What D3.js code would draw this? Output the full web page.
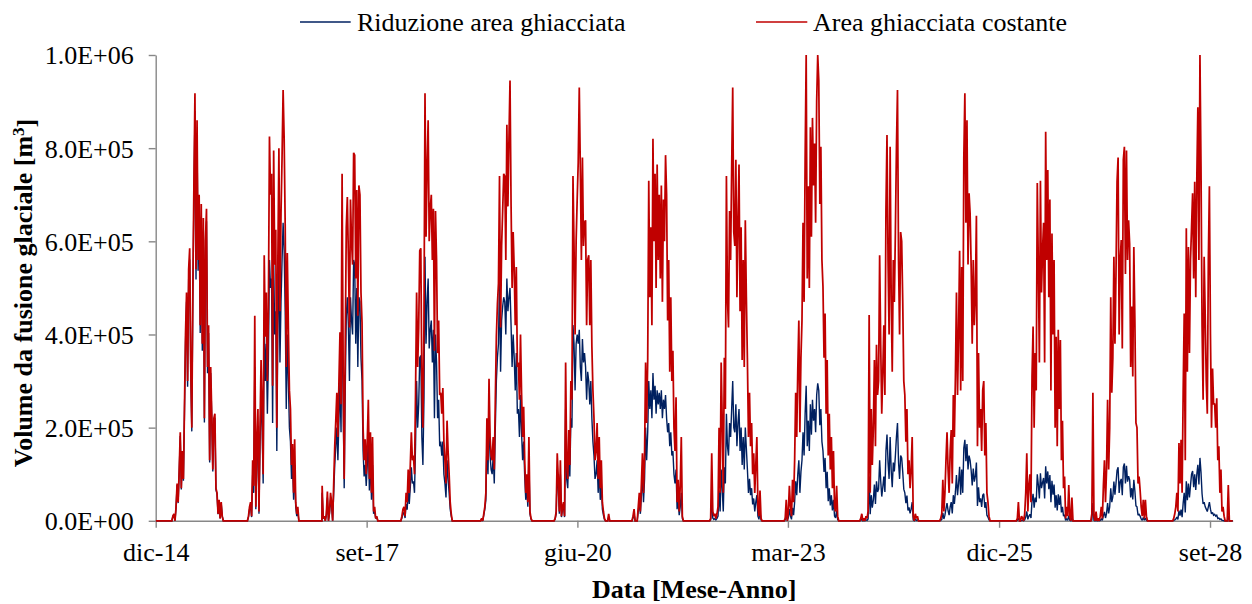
<!DOCTYPE html>
<html>
<head>
<meta charset="utf-8">
<script src="https://cdn.jsdelivr.net/npm/d3@7"></script>
<style>
  body { margin: 0; background: #fff; }
  text { font-family: "Liberation Serif", "Times New Roman", serif; fill: #000; }
</style>
</head>
<body>
<svg id="chart" width="1252" height="604"></svg>
<script>
// Melt seasons: one array per year, values in thousand m³,
// sampled every STEP_DAYS days starting on 1 February of that year.
const seasonYears = [2015, 2016, 2017, 2018, 2019, 2020, 2021, 2022, 2023, 2024, 2025, 2026, 2027, 2028];
const STEP_DAYS = 5;

// "Area ghiacciata costante"
const constantArea = [
  [0,0,0,0,10,15,0,30,80,40,110,190,70,150,90,240,400,490,300,540,585,330,200,500,720,918,540,860,560,700,420,680,380,650,220,600,670,330,420,130,330,230,110,220,230,70,60,15,45,5,40,10,0],
  [0,0,0,10,30,40,10,130,75,440,30,170,240,20,200,345,250,100,570,395,490,300,460,825,700,745,290,795,550,625,200,560,800,450,660,780,925,820,630,330,575,415,280,240,120,165,60,175,40,15,30,0],
  [75,5,10,0,15,63,0,20,60,40,0,80,160,215,275,180,300,405,250,745,330,90,380,630,695,565,415,690,600,550,790,785,520,710,440,720,700,490,425,200,130,175,100,170,260,90,190,60,180,20,30,5,10,0],
  [0,0,0,10,25,30,10,60,40,110,60,120,190,130,140,100,275,490,330,415,580,585,300,200,420,918,610,760,860,600,670,700,560,670,365,665,560,360,430,270,275,230,285,170,130,80,215,150,100,40,15,0],
  [0,0,0,0,0,0,5,0,15,30,60,220,130,305,180,140,130,180,110,260,395,465,510,740,415,590,665,745,740,560,850,675,820,945,680,500,620,540,420,545,330,340,260,400,275,180,245,130,60,100,40,180,20,5,0],
  [0,0,0,5,20,145,90,20,130,10,30,40,10,340,120,90,195,120,300,260,740,590,400,600,690,770,930,755,560,780,590,640,645,420,560,570,420,560,375,280,220,130,150,210,90,180,70,130,40,20,5,0,0,0,15,0],
  [0,0,0,0,10,25,0,0,0,30,60,20,80,145,60,140,340,210,345,730,480,630,420,820,600,745,500,765,560,700,520,720,470,690,600,785,700,430,560,320,480,300,365,200,150,265,40,88,20,75,180,10,0],
  [0,0,0,0,0,5,145,20,10,15,5,15,30,200,60,340,215,60,350,240,740,475,415,665,560,755,930,620,590,775,480,640,765,450,630,345,560,330,645,480,345,180,275,160,210,100,145,60,120,180,30,10,65,5,0],
  [0,0,0,5,45,0,20,75,30,10,88,40,130,275,180,325,430,190,350,430,640,470,775,1000,520,718,500,845,610,865,720,810,640,900,1000,945,680,803,560,503,350,445,230,345,140,230,110,180,70,150,30,20,75,10,0],
  [0,0,5,15,0,5,0,10,5,20,442,60,240,120,200,345,160,378,270,300,570,380,230,317,420,270,667,828,560,400,803,480,320,560,470,620,800,925,560,400,620,600,470,300,270,170,240,100,130,70,110,180,10,0,15,5,10,0],
  [0,0,0,0,0,5,15,88,20,60,130,190,110,60,150,195,80,270,180,310,490,270,400,580,280,545,300,780,918,640,860,550,703,660,545,380,560,420,480,655,160,360,200,240,150,280,300,140,210,60,40,10,0],
  [0,0,0,0,0,5,40,0,0,10,5,0,15,60,145,20,75,100,40,310,417,200,360,280,725,552,340,730,490,580,640,340,835,560,753,480,690,280,617,400,560,200,395,160,410,240,388,130,215,70,95,5,30,10,77,10,0,50,0],
  [0,0,0,15,275,10,0,20,0,5,0,10,30,5,75,130,40,110,260,110,200,480,275,350,567,380,530,728,780,400,560,603,370,775,803,530,795,560,645,595,330,460,310,588,430,210,200,80,95,65,30,10,45,5,45,10,0],
  [0,0,0,0,0,0,0,0,5,15,30,60,20,167,80,174,60,275,445,130,628,320,588,360,560,630,703,520,728,480,732,888,560,1000,760,420,260,567,440,300,230,560,718,400,200,327,250,252,200,263,130,160,60,110,20,30,10,0,0,0,77,0]
];

// "Riduzione area ghiacciata"
const reducedArea = [
  [0,0,0,0,10,14,0,29,77,38,105,182,67,144,86,230,383,470,288,518,561,317,192,480,690,880,518,825,537,672,403,652,365,624,211,576,643,317,403,125,317,221,106,211,221,67,58,14,43,5,38,10,0],
  [0,0,0,8,25,30,8,100,60,330,25,130,190,15,160,270,200,80,430,300,380,230,350,560,500,520,210,560,400,450,150,420,560,340,470,560,640,580,450,240,400,300,200,170,90,120,45,120,30,10,20,0],
  [60,5,8,0,12,50,0,15,45,30,0,60,120,160,200,130,220,300,190,500,260,70,280,440,480,420,300,480,430,400,560,550,380,500,330,480,470,350,300,150,95,120,75,120,180,65,130,45,120,15,20,5,8,0],
  [0,0,0,6,15,18,6,36,24,66,36,72,115,80,85,60,165,300,200,250,350,355,180,120,260,567,380,470,520,370,410,430,340,410,220,400,340,220,260,160,170,140,170,100,80,50,130,90,60,25,10,0],
  [0,0,0,0,0,0,4,0,12,25,45,170,100,230,140,110,100,140,80,200,300,350,380,520,320,430,460,480,470,400,520,450,480,500,420,330,400,350,280,360,230,240,180,270,190,130,170,95,45,70,30,130,15,4,0],
  [0,0,0,4,15,110,70,15,100,8,25,30,8,240,90,70,150,95,220,200,420,380,280,380,400,380,410,330,300,390,340,360,330,260,320,300,250,300,220,170,140,90,100,130,60,110,45,80,25,12,3,0,0,0,8,0],
  [0,0,0,0,6,15,0,0,0,20,40,15,55,100,40,90,200,130,190,300,240,280,220,317,260,290,230,280,250,275,240,280,220,260,240,270,220,190,210,160,190,140,150,100,80,110,25,45,12,30,60,5,0],
  [0,0,0,0,0,2,50,6,3,5,2,5,10,65,20,110,70,20,115,80,230,160,140,210,180,240,300,200,190,250,160,210,240,150,200,120,180,110,200,155,110,60,90,55,70,35,48,20,40,55,10,3,20,2,0],
  [0,0,0,2,15,0,7,25,10,3,28,12,40,85,55,100,130,60,105,130,190,140,230,290,160,215,150,250,185,260,215,240,190,270,295,280,205,240,170,150,105,135,70,105,42,70,33,55,22,45,10,6,22,3,0],
  [0,0,1,3,0,1,0,2,1,4,95,14,55,28,45,78,36,85,62,68,130,86,52,72,95,62,150,185,125,90,180,108,72,125,106,140,180,210,125,90,140,135,105,68,60,38,54,22,29,16,25,40,2,0,3,1,2,0],
  [0,0,0,0,0,1,3,17,4,12,26,38,22,12,30,40,16,55,36,62,98,55,80,116,56,110,60,156,174,128,165,110,140,130,108,76,112,84,96,125,32,72,40,48,30,55,58,28,40,12,8,2,0],
  [0,0,0,0,0,1,6,0,0,1,1,0,2,8,20,3,10,14,6,43,58,28,50,40,100,77,48,102,70,82,92,48,117,80,106,68,98,40,86,56,78,28,55,22,57,34,54,18,30,10,13,1,4,1,11,1,0,7,0],
  [0,0,0,2,38,1,0,3,0,1,0,1,4,1,11,19,6,16,38,16,30,70,40,52,84,56,80,108,115,60,84,90,55,115,123,80,118,84,96,88,50,70,46,88,64,32,30,12,14,10,4,1,7,1,6,1,0],
  [0,0,0,0,0,0,0,0,1,2,4,8,3,22,11,24,8,38,60,18,85,44,80,50,76,100,107,72,100,66,100,120,78,135,104,58,36,40,30,25,20,30,40,25,15,18,12,14,10,12,5,6,3,4,1,1,0,0,0,0,10,0]
];

const seriesNames = ["Riduzione area ghiacciata", "Area ghiacciata costante"];
const seriesColors = ["#002060", "#C00000"];
const seriesWidths = [1.4, 1.75];

const yTickValues = [0, 200000, 400000, 600000, 800000, 1000000];
const yTickLabels = ["0.0E+00", "2.0E+05", "4.0E+05", "6.0E+05", "8.0E+05", "1.0E+06"];
const xTickDates = ["2014-12-01", "2017-09-01", "2020-06-01", "2023-03-01", "2025-12-01", "2028-09-01"];
const xTickLabels = ["dic-14", "set-17", "giu-20", "mar-23", "dic-25", "set-28"];
const axisStart = "2014-12-01";
const axisEnd = "2028-12-18";

const xTitle = "Data [Mese-Anno]";
const yTitle = "Volume da fusione glaciale [m";

// ---- layout ----
const plot = { left: 155.7, right: 1232.7, top: 55, bottom: 520.8 };
const axisColor = "#878787";

const svg = d3.select("#chart");
const parse = d3.utcParse("%Y-%m-%d");
const DAY = 86400000;

const x = d3.scaleUtc()
  .domain([parse(axisStart), parse(axisEnd)])
  .range([plot.left, plot.right]);
const y = d3.scaleLinear()
  .domain([0, 1000000])
  .range([plot.bottom, plot.top]);

// One polyline per series: flat zero through each winter, season samples in between.
function buildSeries(seasons) {
  const pts = [{ date: parse(axisStart), value: 0 }];
  seasons.forEach((vals, k) => {
    const start = Date.UTC(seasonYears[k], 1, 1);
    pts.push({ date: new Date(start - DAY), value: 0 });
    vals.forEach((v, i) => {
      pts.push({ date: new Date(start + STEP_DAYS * i * DAY), value: v * 1000 });
    });
    pts.push({ date: new Date(start + (STEP_DAYS * (vals.length - 1) + 1) * DAY), value: 0 });
  });
  pts.push({ date: parse(axisEnd), value: 0 });
  return pts;
}

const series = [buildSeries(reducedArea), buildSeries(constantArea)];

// ---- axes ----
const yAxis = d3.axisLeft(y)
  .tickValues(yTickValues)
  .tickFormat((d, i) => yTickLabels[i])
  .tickSizeInner(7)
  .tickSizeOuter(0)
  .tickPadding(15);

const gy = svg.append("g")
  .attr("transform", `translate(${plot.left},0)`)
  .call(yAxis);
gy.attr("font-family", null);
gy.select(".domain").attr("stroke", axisColor).attr("stroke-width", 1.4);
gy.selectAll(".tick line").attr("stroke", axisColor).attr("stroke-width", 1.4);
gy.selectAll(".tick text")
  .attr("dy", "0.34em")
  .style("font-size", "26px")
  .style("font-family", "'Liberation Serif', 'Times New Roman', serif")
  .attr("fill", "#000");

const xAxis = d3.axisBottom(x)
  .tickValues(xTickDates.map(parse))
  .tickFormat((d, i) => xTickLabels[i])
  .tickSizeInner(7)
  .tickSizeOuter(0);

const gx = svg.append("g")
  .attr("transform", `translate(0,${plot.bottom})`)
  .call(xAxis);
gx.attr("font-family", null);
gx.select(".domain").attr("stroke", axisColor).attr("stroke-width", 1.4);
gx.selectAll(".tick line").attr("stroke", axisColor).attr("stroke-width", 1.4);
gx.selectAll(".tick text")
  .attr("y", 40.5)
  .attr("dy", 0)
  .style("font-size", "26px")
  .style("font-family", "'Liberation Serif', 'Times New Roman', serif")
  .attr("fill", "#000");

// ---- series lines ----
svg.append("clipPath").attr("id", "plot-clip")
  .append("rect")
  .attr("x", plot.left)
  .attr("y", plot.top - 1)
  .attr("width", plot.right - plot.left + 1)
  .attr("height", plot.bottom - plot.top + 3);

const line = d3.line()
  .x(d => x(d.date))
  .y(d => y(d.value));

svg.append("g")
  .attr("clip-path", "url(#plot-clip)")
  .selectAll("path")
  .data(series)
  .join("path")
  .attr("d", line)
  .attr("fill", "none")
  .attr("stroke", (d, i) => seriesColors[i])
  .attr("stroke-width", (d, i) => seriesWidths[i])
  .attr("stroke-linejoin", "miter")
  .attr("stroke-miterlimit", 2);

// ---- legend ----
const legendItems = [
  { x1: 300, x2: 350.7, tx: 357 },
  { x1: 756, x2: 807.3, tx: 813 }
];
const legend = svg.append("g");
legendItems.forEach((it, i) => {
  legend.append("line")
    .attr("x1", it.x1).attr("x2", it.x2)
    .attr("y1", 22).attr("y2", 22)
    .attr("stroke", seriesColors[i])
    .attr("stroke-width", 1.5);
  legend.append("text")
    .attr("x", it.tx).attr("y", 31)
    .style("font-size", "26px")
    .text(seriesNames[i]);
});

// ---- axis titles ----
svg.append("text")
  .attr("x", (plot.left + plot.right) / 2)
  .attr("y", 598)
  .attr("text-anchor", "middle")
  .style("font-size", "26px")
  .style("font-weight", "bold")
  .text(xTitle);

const yt = svg.append("text")
  .attr("transform", "translate(31.5,293) rotate(-90)")
  .attr("text-anchor", "middle")
  .style("font-size", "26px")
  .style("font-weight", "bold");
yt.append("tspan").text(yTitle);
yt.append("tspan").attr("dy", "-0.42em").style("font-size", "17px").text("3");
yt.append("tspan").attr("dy", "0.42em").text("]");
</script>
</body>
</html>
